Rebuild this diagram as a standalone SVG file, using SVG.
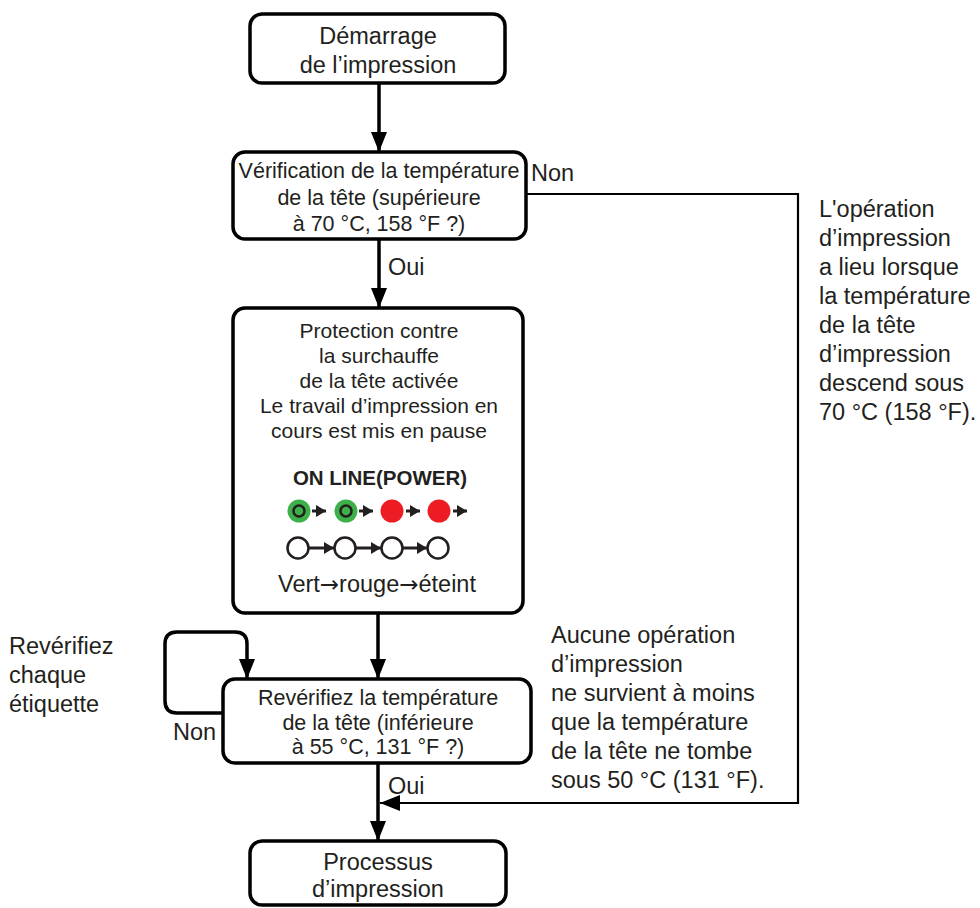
<svg xmlns="http://www.w3.org/2000/svg" width="980" height="908" viewBox="0 0 980 908">
<style>
text{font-family:"Liberation Sans",Arial,sans-serif;fill:#231f20;}
.t{font-size:21.5px;text-anchor:middle;}
.b{font-size:23.5px;text-anchor:middle;}
.p{font-size:21px;text-anchor:middle;}
.n{font-size:23.5px;}
.box{fill:#fff;stroke:#000;stroke-width:3.5;}
.ln{fill:none;stroke:#000;stroke-width:3.5;}
.thin{fill:none;stroke:#000;stroke-width:2.2;}
.arr{font-family:"DejaVu Sans",sans-serif;font-size:23px;}
</style>
<defs>
<marker id="ah" viewBox="0 0 20 16" refX="20" refY="8" markerWidth="20" markerHeight="16" markerUnits="userSpaceOnUse" orient="auto">
<path d="M0,0 L20,8 L0,16 Z" fill="#000"/>
</marker>
<marker id="sa" viewBox="0 0 10 12" refX="10" refY="6" markerWidth="10" markerHeight="12" markerUnits="userSpaceOnUse" orient="auto">
<path d="M0,0 L10,6 L0,12 Z" fill="#231f20"/>
</marker>
</defs>

<g id="connectors">
<line class="ln" x1="379" y1="83" x2="379" y2="152" marker-end="url(#ah)"/>
<line class="ln" x1="379" y1="239" x2="379" y2="308" marker-end="url(#ah)"/>
<line class="ln" x1="378" y1="613" x2="378" y2="679" marker-end="url(#ah)"/>
<path class="ln" d="M223,713 H177 Q165,713 165,701 V644 Q165,632 177,632 H235 Q247,632 247,644 V679" marker-end="url(#ah)"/>
<line class="ln" x1="378" y1="763" x2="378" y2="841" marker-end="url(#ah)"/>
<path class="thin" d="M526,194 H798 V803 H380" marker-end="url(#ah)"/>
<text class="n" x="531" y="181">Non</text>
<text class="n" x="388" y="275">Oui</text>
<text class="n" x="173" y="740">Non</text>
<text class="n" x="388" y="794">Oui</text>
</g>

<g id="start">
<rect class="box" x="250" y="14" width="255" height="69" rx="12"/>
<text class="b" x="378" y="44">Démarrage</text>
<text class="b" x="378" y="73">de l’impression</text>
</g>

<g id="check1">
<rect class="box" x="233" y="152" width="293" height="87" rx="12"/>
<text class="t" x="379" y="178">Vérification de la température</text>
<text class="t" x="379" y="205">de la tête (supérieure</text>
<text class="t" x="379" y="231">à 70 °C, 158 °F ?)</text>
</g>

<g id="protection">
<rect class="box" x="233" y="308" width="290" height="305" rx="12"/>
<text class="p" x="379" y="338">Protection contre</text>
<text class="p" x="379" y="363">la surchauffe</text>
<text class="p" x="379" y="388">de la tête activée</text>
<text class="p" x="379" y="413">Le travail d’impression en</text>
<text class="p" x="379" y="438">cours est mis en pause</text>
<text class="p" x="380" y="485" style="font-size:20.5px;font-weight:bold">ON LINE(POWER)</text>
<g id="leds1">
<circle cx="299" cy="511" r="11.5" fill="#3db04a"/>
<circle cx="299" cy="511" r="5.5" fill="#3db04a" stroke="#231f20" stroke-width="2.5"/>
<line x1="312" y1="511" x2="326" y2="511" stroke="#231f20" stroke-width="3" marker-end="url(#sa)"/>
<circle cx="346" cy="511" r="11.5" fill="#3db04a"/>
<circle cx="346" cy="511" r="5.5" fill="#3db04a" stroke="#231f20" stroke-width="2.5"/>
<line x1="359" y1="511" x2="373" y2="511" stroke="#231f20" stroke-width="3" marker-end="url(#sa)"/>
<circle cx="392" cy="511" r="11.5" fill="#ed1c24"/>
<line x1="406" y1="511" x2="420" y2="511" stroke="#231f20" stroke-width="3" marker-end="url(#sa)"/>
<circle cx="439" cy="511" r="11.5" fill="#ed1c24"/>
<line x1="453" y1="511" x2="467" y2="511" stroke="#231f20" stroke-width="3" marker-end="url(#sa)"/>
</g>
<g id="leds2" fill="none" stroke="#231f20" stroke-width="2.5">
<circle cx="298" cy="548" r="10.5"/>
<circle cx="345" cy="548" r="10.5"/>
<circle cx="392" cy="548" r="10.5"/>
<circle cx="438" cy="548" r="10.5"/>
<line x1="309" y1="548" x2="334" y2="548" stroke-width="3" marker-end="url(#sa)"/>
<line x1="356" y1="548" x2="381" y2="548" stroke-width="3" marker-end="url(#sa)"/>
<line x1="403" y1="548" x2="427" y2="548" stroke-width="3" marker-end="url(#sa)"/>
</g>
<text class="p" x="377" y="592" style="font-size:23.5px">Vert<tspan class="arr">→</tspan>rouge<tspan class="arr">→</tspan>éteint</text>
</g>

<g id="check2">
<rect class="box" x="223" y="679" width="308" height="84" rx="12"/>
<text class="t" x="378" y="705">Revérifiez la température</text>
<text class="t" x="378" y="730">de la tête (inférieure</text>
<text class="t" x="378" y="754">à 55 °C, 131 °F ?)</text>
</g>

<g id="process">
<rect class="box" x="250" y="841" width="256" height="64" rx="12"/>
<text class="b" x="378" y="870">Processus</text>
<text class="b" x="378" y="897">d’impression</text>
</g>

<g id="note-right">
<text class="n" x="819" y="217">L'opération</text>
<text class="n" x="819" y="246">d’impression</text>
<text class="n" x="819" y="275">a lieu lorsque</text>
<text class="n" x="819" y="304">la température</text>
<text class="n" x="819" y="333">de la tête</text>
<text class="n" x="819" y="362">d’impression</text>
<text class="n" x="819" y="391">descend sous</text>
<text class="n" x="819" y="420">70 °C (158 °F).</text>
</g>

<g id="note-middle">
<text class="n" x="551" y="643">Aucune opération</text>
<text class="n" x="551" y="672">d’impression</text>
<text class="n" x="551" y="701">ne survient à moins</text>
<text class="n" x="551" y="730">que la température</text>
<text class="n" x="551" y="759">de la tête ne tombe</text>
<text class="n" x="551" y="788">sous 50 °C (131 °F).</text>
</g>

<g id="note-left">
<text class="n" x="9" y="654">Revérifiez</text>
<text class="n" x="9" y="683">chaque</text>
<text class="n" x="9" y="712">étiquette</text>
</g>
</svg>
